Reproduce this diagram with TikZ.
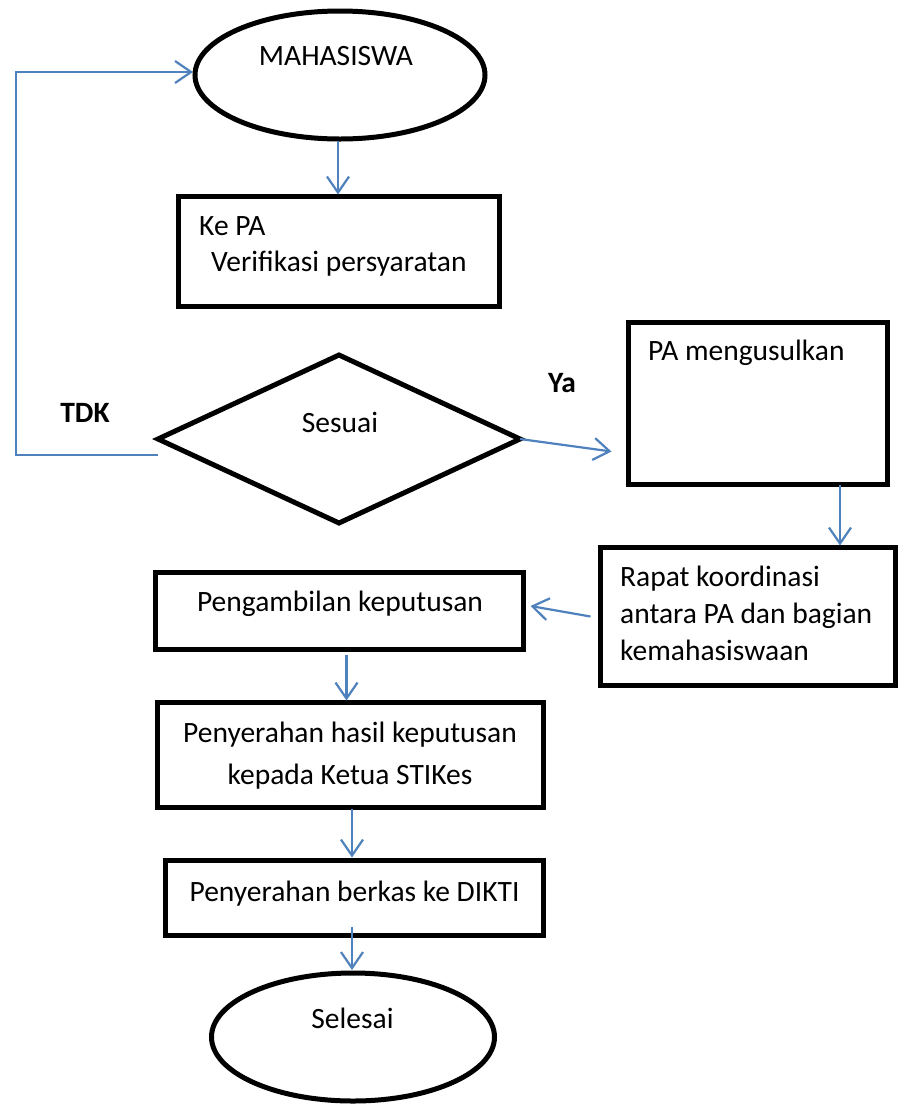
\documentclass[tikz,border=0pt]{standalone}
\usepackage{fontspec}
\setmainfont{Carlito}
\usetikzlibrary{shapes.geometric,arrows.meta,calc}
\definecolor{flowblue}{HTML}{4F81BD}
\tikzset{
  boxshape/.style={draw=black,line width=5pt,rectangle,inner sep=0pt,outer sep=0pt},
  ovalshape/.style={draw=black,line width=5pt,ellipse,inner sep=0pt,outer sep=0pt},
  diashape/.style={draw=black,line width=5pt,diamond,inner sep=0pt,outer sep=0pt},
  txt/.style={inner sep=0pt,font=\fontsize{29.5}{37}\selectfont},
  boldtxt/.style={txt,font=\fontsize{29.5}{37}\selectfont\bfseries},
  arr/.style={draw=flowblue,line width=2.2pt,-{Straight Barb[length=16pt,width=22pt,line width=2.2pt]}},
}
\begin{document}
\begin{tikzpicture}[x=1pt,y=-1pt]
\useasboundingbox (0,0) rectangle (904,1104);

% shapes
\node[ovalshape,minimum width=290pt,minimum height=128pt] (mhs) at (340,75) {};
\node[boxshape,minimum width=321pt,minimum height=110pt] (verif) at (339,251.5) {};
\node[diashape,minimum width=362pt,minimum height=168pt] (cek) at (339,439) {};
\node[boxshape,minimum width=259pt,minimum height=162pt] (usul) at (758,403.5) {};
\node[boxshape,minimum width=295pt,minimum height=138pt] (rapat) at (748,616.5) {};
\node[boxshape,minimum width=368pt,minimum height=77pt] (ambil) at (339.5,611) {};
\node[boxshape,minimum width=386pt,minimum height=105pt] (serah) at (350.5,755) {};
\node[boxshape,minimum width=378pt,minimum height=75pt] (dikti) at (354.5,898) {};
\node[ovalshape,minimum width=283pt,minimum height=128pt] (akhir) at (353,1037) {};

% texts
\node[txt,anchor=base] (tmhs) at (336,65) {MAHASISWA};
\node[txt,anchor=base west] (tkepa) at (199,235) {Ke PA};
\node[txt,anchor=base west] (tverif) at (211,271) {Verifikasi persyaratan};
\node[txt,anchor=base] (tsesuai) at (340,432) {Sesuai};
\node[boldtxt,anchor=base] (ttdk) at (85,422) {TDK};
\node[boldtxt,anchor=base] (tya) at (562,392) {Ya};
\node[txt,anchor=base west] (tusul) at (648,360) {PA mengusulkan};
\node[txt,anchor=base west] (trapat1) at (620,586) {Rapat koordinasi};
\node[txt,anchor=base west] (trapat2) at (620,623) {antara PA dan bagian};
\node[txt,anchor=base west] (trapat3) at (620,660) {kemahasiswaan};
\node[txt,anchor=base] (tambil) at (340,611) {Pengambilan keputusan};
\node[txt,anchor=base] (tserah1) at (350,742) {Penyerahan hasil keputusan};
\node[txt,anchor=base] (tserah2) at (350,784) {kepada Ketua STIKes};
\node[txt,anchor=base] (tdikti) at (354.5,901) {Penyerahan berkas ke DIKTI};
\node[txt,anchor=base] (takhir) at (352.5,1028) {Selesai};

% connectors
\draw[arr] ($(mhs.south)+(-2,2)$) -- ($(mhs.south |- verif.north)+(-2,-2)$);
\draw[arr] ($(cek.west)+(0,16)$) -- ++(-142,0) |- ($(mhs.west)+(-2,-3)$);
\draw[arr] (cek.east) -- ($(usul.west)+(-17,48)$);
\draw[arr] ($(usul.south)+(82,0)$) -- ($(usul.south |- rapat.north)+(82,-2)$);
\draw[arr] ($(rapat.west)+(-10,0)$) -- ($(ambil.east)+(7,-5)$);
\draw[arr] ($(ambil.south)+(7,5)$) -- ($(ambil.south |- serah.north)+(7,-2)$);
\draw[arr] ($(serah.south)+(1.5,1)$) -- ($(serah.south |- dikti.north)+(1.5,-3)$);
\draw[arr] ($(dikti.south)+(-2.5,-9)$) -- ($(dikti.south |- akhir.north)+(-2.5,-3)$);
\end{tikzpicture}
\end{document}
